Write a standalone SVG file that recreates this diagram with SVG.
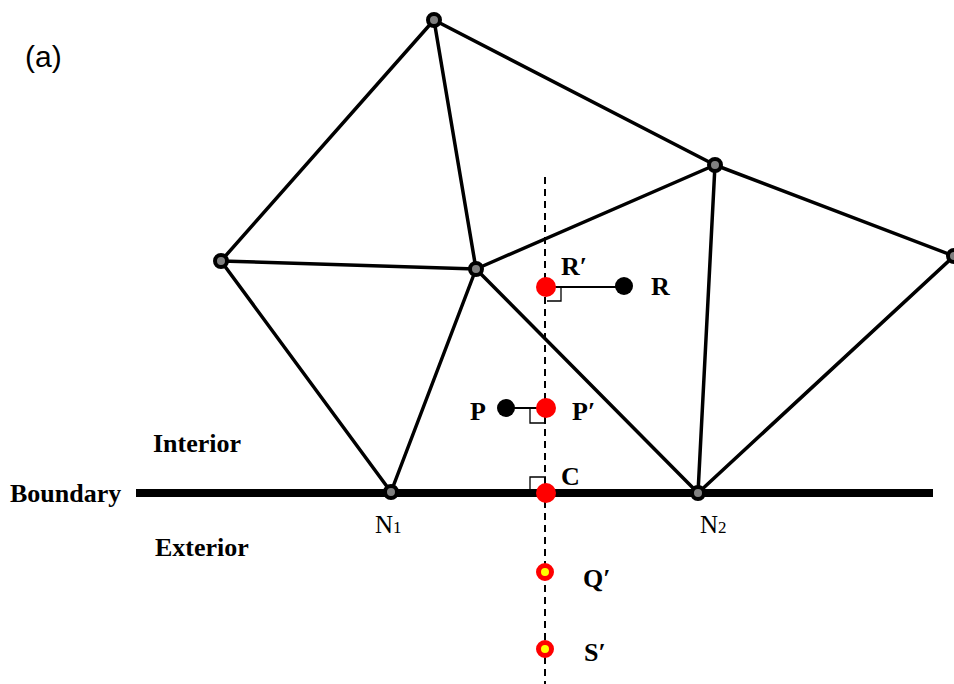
<svg xmlns="http://www.w3.org/2000/svg" width="954" height="684" viewBox="0 0 954 684">
<style>
.edge{stroke:#000;stroke-width:3.5;fill:none;stroke-linecap:round}
.node{fill:#808080;stroke:#000;stroke-width:4}
.lbl{font-family:"Liberation Serif",serif;font-weight:bold;font-size:26px;fill:#000}
.nlbl{font-family:"Liberation Serif",serif;font-size:25px;fill:#000}
.sq{stroke:#000;stroke-width:1.3;fill:none}
.red{fill:#ff0000}
.ext{fill:#ffff00;stroke:#ff0000;stroke-width:5}
</style>
<rect width="954" height="684" fill="#fff"/>
<text x="25" y="67" font-family="Liberation Sans,Arial,sans-serif" font-size="30">(a)</text>
<g id="connectors">
<line class="edge" x1="434" y1="20" x2="221" y2="261"/>
<line class="edge" x1="434" y1="20" x2="476" y2="269"/>
<line class="edge" x1="434" y1="20" x2="715" y2="165"/>
<line class="edge" x1="221" y1="261" x2="476" y2="269"/>
<line class="edge" x1="221" y1="261" x2="391" y2="492"/>
<line class="edge" x1="476" y1="269" x2="391" y2="492"/>
<line class="edge" x1="476" y1="269" x2="715" y2="165"/>
<line class="edge" x1="476" y1="269" x2="698" y2="493"/>
<line class="edge" x1="715" y1="165" x2="698" y2="493"/>
<line class="edge" x1="715" y1="165" x2="954" y2="256"/>
<line class="edge" x1="954" y1="256" x2="698" y2="493"/>
<line x1="136" y1="493" x2="933" y2="493" stroke="#000" stroke-width="8"/>
<line x1="545" y1="177" x2="545" y2="684" stroke="#000" stroke-width="2" stroke-dasharray="7,5"/>
<line x1="546" y1="287" x2="624" y2="287" stroke="#000" stroke-width="2"/>
<line x1="506" y1="408" x2="546" y2="408" stroke="#000" stroke-width="2"/>
<polyline class="sq" points="547,287 561,287 561,301 547,301"/>
<polyline class="sq" points="530,409 530,423 546,423"/>
<polyline class="sq" points="530,493 530,477 546,477"/>
</g>
<g id="n-top"><circle class="node" cx="434" cy="20" r="6"/></g>
<g id="n-left"><circle class="node" cx="221" cy="261" r="6"/></g>
<g id="n-center"><circle class="node" cx="476" cy="269" r="6"/></g>
<g id="n-upper-right"><circle class="node" cx="715" cy="165" r="6"/></g>
<g id="n-right"><circle class="node" cx="954" cy="256" r="6"/></g>
<g id="N1"><circle class="node" cx="391" cy="492" r="6"/><text class="nlbl" x="375" y="533">N<tspan font-size="17">1</tspan></text></g>
<g id="N2"><circle class="node" cx="698" cy="493" r="6"/><text class="nlbl" x="700" y="533">N<tspan font-size="17">2</tspan></text></g>
<g id="Rp"><circle class="red" cx="546" cy="287" r="10"/><text class="lbl" x="561" y="275">R′</text></g>
<g id="R"><circle cx="624" cy="286" r="9"/><text class="lbl" x="651" y="295">R</text></g>
<g id="Pp"><circle class="red" cx="546" cy="408" r="10"/><text class="lbl" x="572" y="420">P′</text></g>
<g id="P"><circle cx="506" cy="408" r="9"/><text class="lbl" x="470" y="420">P</text></g>
<g id="C"><circle class="red" cx="546" cy="493" r="10"/><text class="lbl" x="561" y="485">C</text></g>
<g id="Qp"><circle class="ext" cx="545" cy="572" r="6.5"/><text class="lbl" x="583" y="587">Q′</text></g>
<g id="Sp"><circle class="ext" cx="545" cy="649" r="6.5"/><text class="lbl" x="584" y="661">S′</text></g>
<g id="regions">
<text class="lbl" x="153" y="452">Interior</text>
<text class="lbl" x="10" y="502">Boundary</text>
<text class="lbl" x="155" y="556">Exterior</text>
</g>
</svg>
